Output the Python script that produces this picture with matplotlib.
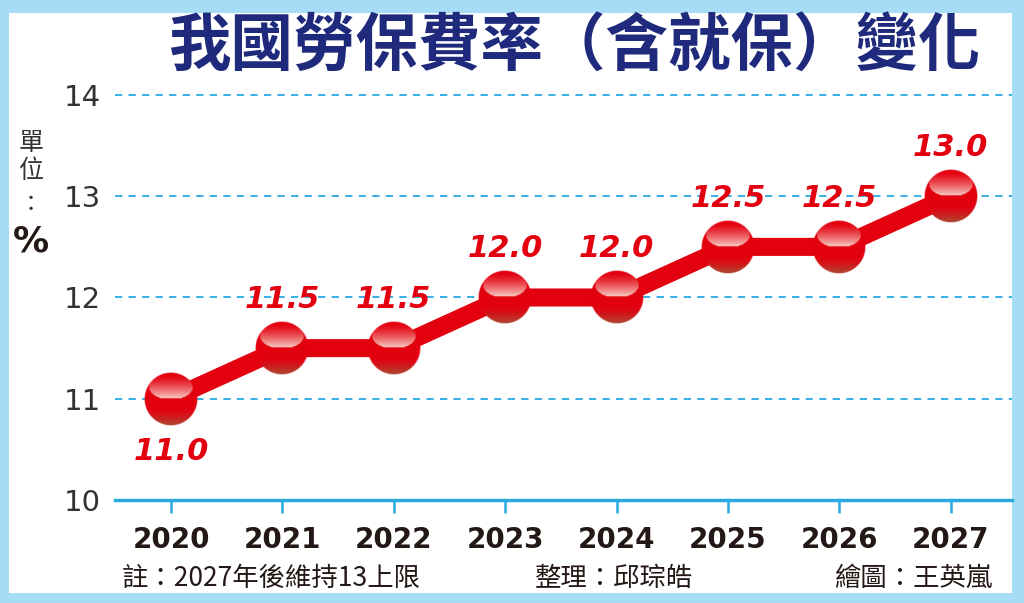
import numpy as np
import matplotlib
import matplotlib.pyplot as plt
from matplotlib.patches import Rectangle
import matplotlib.colors as mcolors

plt.rcParams['font.family'] = ['Noto Sans CJK TC', 'DejaVu Sans']

years = [2020, 2021, 2022, 2023, 2024, 2025, 2026, 2027]
rates = [11.0, 11.5, 11.5, 12.0, 12.0, 12.5, 12.5, 13.0]
yticks = [10, 11, 12, 13, 14]

title = "我國勞保費率（含就保）變化"
note = "註：2027年後維持13上限"
editor = "整理：邱琮皓"
artist = "繪圖：王英嵐"

red = "#e3000f"
blue = "#29a9e0"
navy = "#1f2a7c"


def sphere_image(n=80):
    # shaded ball: pale band in the upper half, brownish bottom
    u, v = np.meshgrid(np.linspace(-1, 1, n), np.linspace(-1, 1, n))
    img = np.zeros((n, n, 4))
    base = np.array(mcolors.to_rgb(red))
    pale = np.array(mcolors.to_rgb("#f8dcd0"))
    brown = np.array(mcolors.to_rgb("#a0583a"))
    col = np.broadcast_to(base, (n, n, 3)).copy()
    inner = (u / 0.82) ** 2 + ((v + 0.45) / 0.47) ** 2 <= 1
    t = np.clip((v + 0.9) / 0.88, 0, 1) ** 1.3 * 0.92
    t = np.where(inner & (v < -0.02), t, 0)
    col = col * (1 - t[..., None]) + pale * t[..., None]
    b = np.clip((v - 0.35) / 0.65, 0, 1) ** 1.4 * 0.85
    col = col * (1 - b[..., None]) + brown * b[..., None]
    r = np.sqrt(u ** 2 + v ** 2)
    img[..., :3] = col
    img[..., 3] = np.clip((1 - r) * n / 2, 0, 1)
    return img


fig = plt.figure(figsize=(10.24, 6.03), dpi=100)
fig.patch.set_facecolor("#a6dcf5")
fig.patches.append(Rectangle((9/1024, 10/603), 1003/1024, 580/603,
                             transform=fig.transFigure, facecolor="white",
                             edgecolor="none", zorder=-5))

ax = fig.add_axes([115/1024, 1 - 500/603, 897/1024, 405/603])
ax.set_facecolor("none")
ax.set_xlim(2019.497, 2027.55)
ax.set_ylim(10, 14)

for s in ["top", "right", "left"]:
    ax.spines[s].set_visible(False)
ax.spines["bottom"].set_color(blue)
ax.spines["bottom"].set_linewidth(2.5)

for v in yticks[1:]:
    ax.axhline(v, color=blue, lw=1.3, ls=(0, (4, 3.5)), zorder=1, clip_on=False)

ax.set_xticks(years)
ax.set_xticklabels([str(y) for y in years], fontsize=20, fontweight="bold",
                   color="#231815", family=["DejaVu Sans"])
ax.tick_params(axis="x", length=9, width=1.8, color=blue, pad=10)
ax.set_yticks(yticks)
ax.set_yticklabels([str(v) for v in yticks], fontsize=21, color="#333333",
                   family=["DejaVu Sans"])
ax.tick_params(axis="y", length=0, pad=10)

ax.plot(years, rates, color=red, lw=13, solid_joinstyle="miter", zorder=3)

ball = sphere_image()
inv = ax.transData.inverted()
rad = 27
for x, y in zip(years, rates):
    px, py = ax.transData.transform((x, y))
    x0, y0 = inv.transform((px - rad, py - rad))
    x1, y1 = inv.transform((px + rad, py + rad))
    ax.imshow(ball, extent=(x0, x1, y0, y1), origin="upper",
              interpolation="bilinear", zorder=5, clip_on=False, aspect="auto")
ax.set_xlim(2019.497, 2027.55)
ax.set_ylim(10, 14)

for i, (x, y) in enumerate(zip(years, rates)):
    dy = -38 if i == 0 else 35
    ax.annotate(f"{y:.1f}", (x, y), xytext=(0, dy), textcoords="offset points",
                ha="center", va="center", fontsize=22, fontweight="bold",
                fontstyle="italic", color=red, family=["DejaVu Sans"], zorder=7)

fig.text(574/1024, 1 - 47/603, title, ha="center", va="center", fontsize=45,
         fontweight="bold", color=navy)

fig.text(31/1024, 1 - 143/603, "單", ha="center", va="center", fontsize=18, color="#333333")
fig.text(31/1024, 1 - 171/603, "位", ha="center", va="center", fontsize=18, color="#333333")
fig.text(31/1024, 1 - 204/603, "：", ha="center", va="center", fontsize=16,
         color="#333333")
fig.text(31/1024, 1 - 241/603, "%", ha="center", va="center", fontsize=26,
         fontweight="bold", color="#231815", family=["DejaVu Sans"])

fig.text(122/1024, 1 - 578/603, note, ha="left", va="center", fontsize=19, color="#231815")
fig.text(535/1024, 1 - 578/603, editor, ha="left", va="center", fontsize=19, color="#231815")
fig.text(992/1024, 1 - 578/603, artist, ha="right", va="center", fontsize=19, color="#231815")

fig.savefig("out.png", dpi=100)
